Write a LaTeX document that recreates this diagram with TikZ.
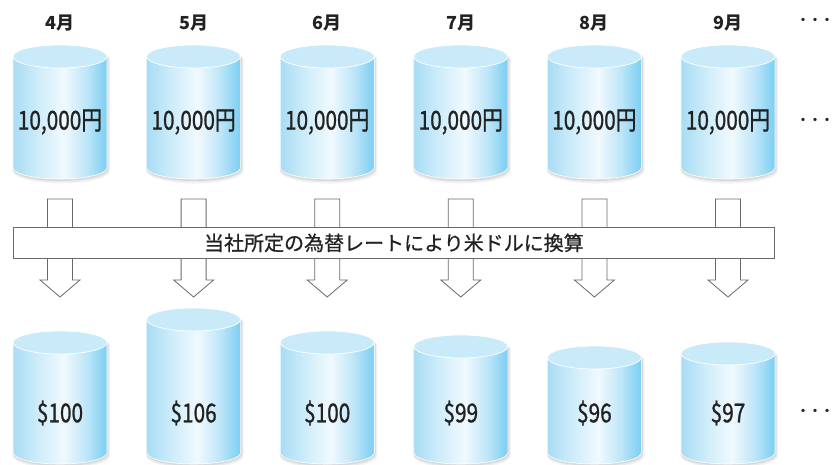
\documentclass[tikz,border=0pt]{standalone}
\usepackage{fontspec}
\usepackage{graphicx}
\newfontfamily\jp{Noto Sans CJK JP}
\newfontfamily\jpmed[FakeBold=0.7]{Noto Sans CJK JP}
\newfontfamily\jpcond[FakeStretch=0.8,FakeBold=0.9]{Noto Sans CJK JP}
\definecolor{cylL}{RGB}{168,220,244}
\definecolor{cylM1}{RGB}{205,236,250}
\definecolor{cylW}{RGB}{241,249,254}
\definecolor{cylM2}{RGB}{190,230,248}
\definecolor{cylR}{RGB}{122,206,242}
\definecolor{cyltop}{RGB}{200,234,249}
\definecolor{txt}{RGB}{34,34,34}
\definecolor{linegray}{RGB}{105,105,105}
\pgfdeclarehorizontalshading{cylbody}{100bp}{color(0bp)=(cylL); color(25bp)=(cylL); color(38bp)=(cylM1); color(52bp)=(cylW); color(64bp)=(cylM2); color(75bp)=(cylR); color(100bp)=(cylR)}
\tikzset{
  numtext/.style={font=\jpcond\fontsize{26}{26}\selectfont, text=txt, inner sep=0pt},
  monthtext/.style={font=\jp\bfseries\fontsize{18}{18}\selectfont, text=txt, inner sep=0pt},
  dotstext/.style={font=\jp\bfseries\fontsize{12}{12}\selectfont, text=txt, inner sep=0pt},
  bannerbox/.style={draw=linegray, line width=0.8pt, fill=white, minimum width=761pt, minimum height=31pt, inner sep=0pt, anchor=north west, font=\jpmed\fontsize{20}{20}\selectfont, text=txt},
  blockarrow/.style={draw=linegray, line width=0.8pt, fill=white, line join=miter},
}
% #1 x center, #2 top y, #3 bottom y, #4 name, #5 text, #6 text y
\newcommand\drawcyl[6]{%
  \pgfmathsetmacro\cyct{#2+11.5}%
  \pgfmathsetmacro\cycb{#3-11.5}%
  \foreach \sh/\op in {3.5/0.04,2.5/0.05,1.5/0.07}{%
    \fill[black, opacity=\op] ([shift={(\sh*0.4,\sh)}]#1-47-\sh*0.5,\cyct) -- ([shift={(\sh*0.4,\sh)}]#1-47-\sh*0.5,\cycb)
      arc[start angle=180, end angle=0, x radius=47+\sh*0.5, y radius=11.5+\sh*0.3]
      -- ([shift={(\sh*0.4,\sh)}]#1+47+\sh*0.5,\cyct)
      arc[start angle=0, end angle=-180, x radius=47+\sh*0.5, y radius=11.5] -- cycle;
  }%
  \path[shading=cylbody, draw=white, line width=0.6pt] (#1-47,\cyct) -- (#1-47,\cycb)
    arc[start angle=180, end angle=0, x radius=47, y radius=11.5] -- (#1+47,\cyct) -- cycle;
  \draw[white, line width=0.7pt, fill=cyltop] (#1,\cyct) ellipse[x radius=47, y radius=11.5];
  \node[numtext] (#4) at (#1,#6) {#5};
}
\begin{document}
\begin{tikzpicture}[x=1pt, y=-1pt]
\useasboundingbox (0,0) rectangle (835,465);
% months
\foreach \m [count=\i from 0] in {4,5,6,7,8,9}{
  \node[monthtext] (m\m) at (60+133.6*\i, 23) {\m 月};
}
\node[dotstext] (dots1) at (815, 21) {・・・};
\node[dotstext] (dots2) at (815, 121) {・・・};
\node[dotstext] (dots3) at (815, 412) {・・・};
% top cylinders
\foreach \i in {0,...,5}{
  \pgfmathsetmacro\cx{60+133.6*\i}
  \drawcyl{\cx}{45}{179}{top\i}{10,000円}{122}
}
% arrows
\foreach \i in {0,...,5}{
  \pgfmathsetmacro\cx{60+133.6*\i}
  \draw[blockarrow] (\cx-12.5,199) -- (\cx+12.5,199) -- (\cx+12.5,280) -- (\cx+20,280)
     -- (\cx,297) -- (\cx-20,280) -- (\cx-12.5,280) -- cycle;
}
\node[bannerbox] (banner) at (13,227) {当社所定の為替レートにより米ドルに換算};
% bottom cylinders
\foreach \i/\t/\v in {0/331/\$100, 1/308/\$106, 2/331/\$100, 3/335/\$99, 4/346/\$96, 5/342/\$97}{
  \pgfmathsetmacro\cx{60+133.6*\i}
  \drawcyl{\cx}{\t}{464}{bot\i}{\v}{413}
}
\end{tikzpicture}
\end{document}
